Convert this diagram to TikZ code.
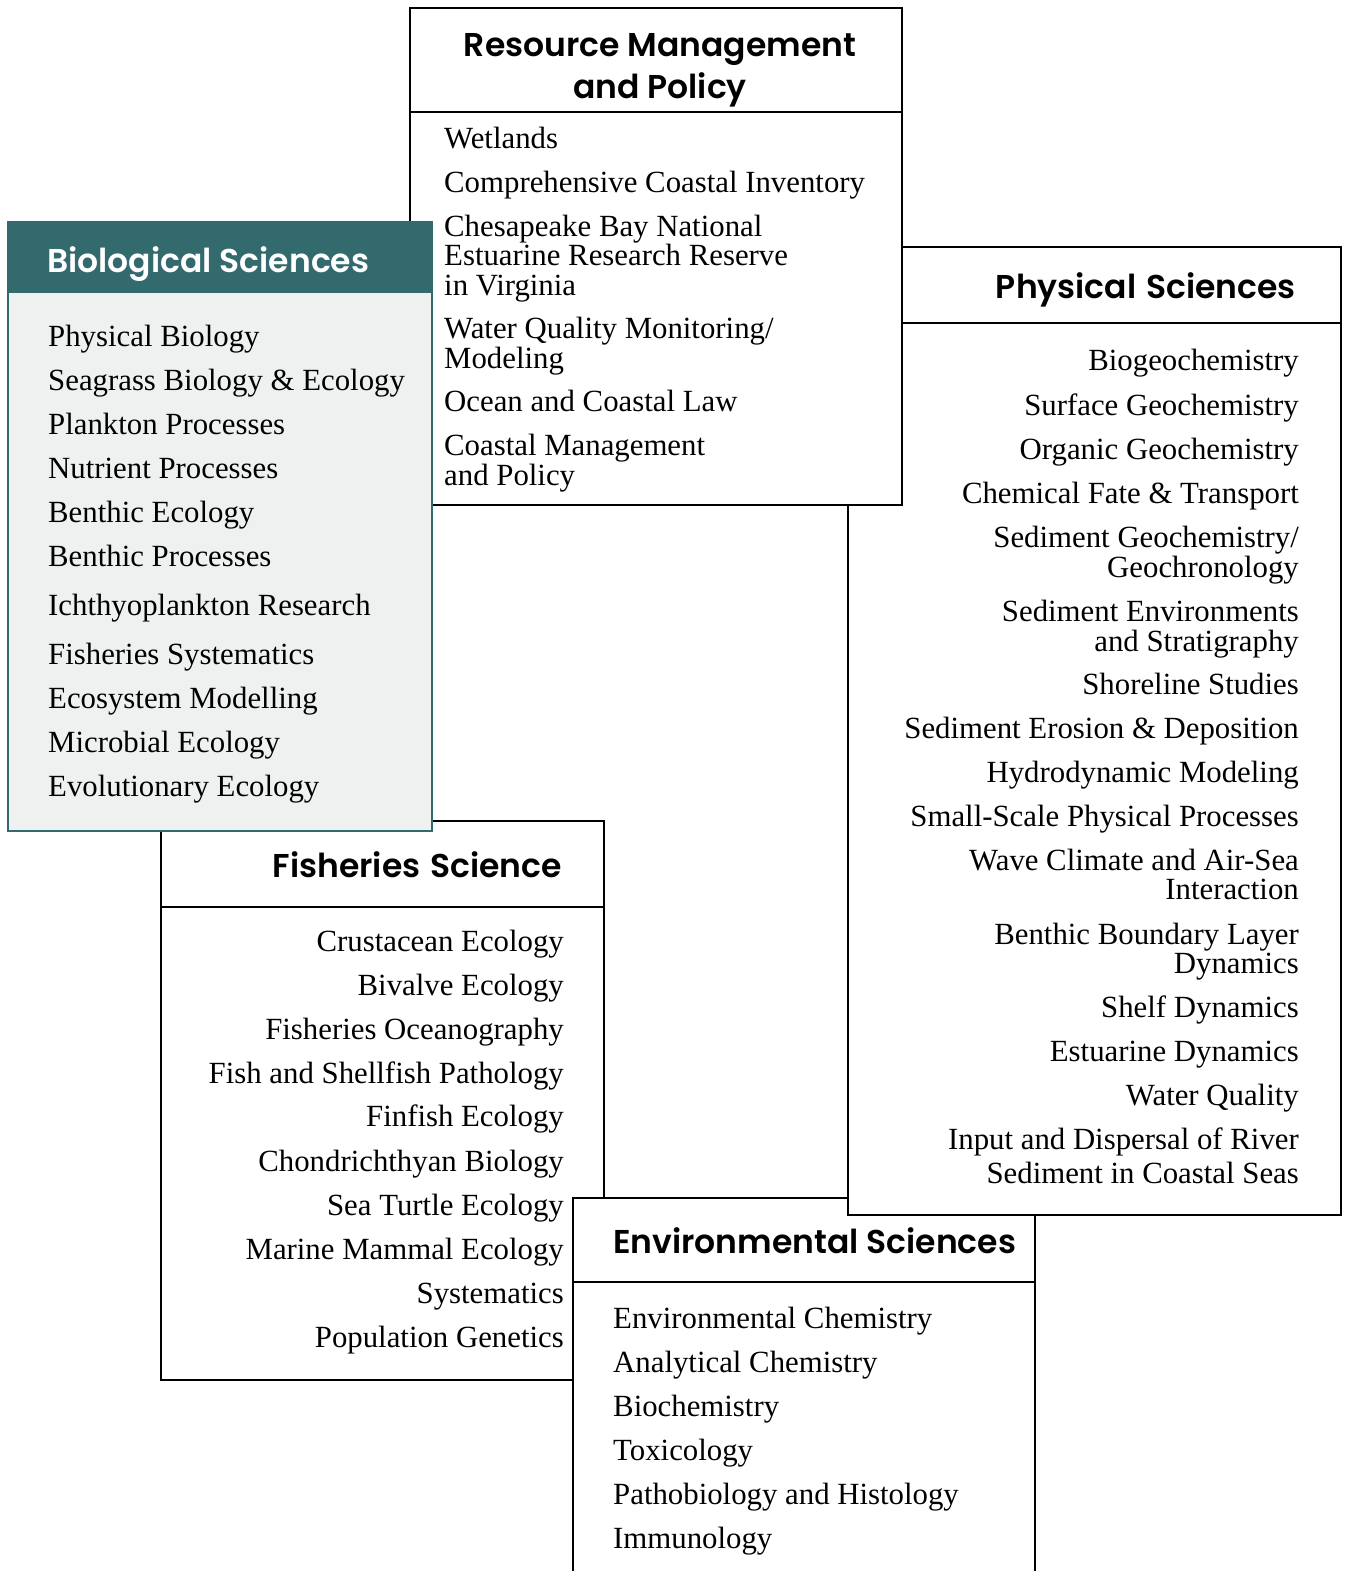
\documentclass[tikz,border=0pt]{standalone}
\usepackage{fontspec}
\setmainfont{Liberation Serif}
\newfontfamily\hdfont{Poppins SemiBold}
\definecolor{teal1}{HTML}{336A6E}
\definecolor{biofill}{HTML}{EFF1F0}
\tikzset{
  boxline/.style={line width=2.4pt, draw=black},
  itemL/.style={anchor=base west, inner sep=0pt, font=\fontsize{30.8}{30.8}\selectfont},
  itemR/.style={anchor=base east, inner sep=0pt, font=\fontsize{30.8}{30.8}\selectfont},
  head/.style={anchor=base, inner sep=0pt, font=\hdfont\fontsize{33}{33}\selectfont},
}
\begin{document}
\begin{tikzpicture}[x=1pt,y={(0pt,-1pt)}]
\useasboundingbox (0,0) rectangle (1348,1571);
% ---------- Fisheries Science ----------
\draw[boxline, fill=white] (161,821) rectangle (604,1380);
\draw[boxline] (161,907) -- (604,907);
\node[head, anchor=base east] (fish) at (562,877) {Fisheries\hspace{0.3em}Science};
\foreach \t/\y [count=\i] in {Crustacean Ecology/951, Bivalve Ecology/995, Fisheries Oceanography/1039, Fish and Shellfish Pathology/1083, Finfish Ecology/1126, Chondrichthyan Biology/1171, Sea Turtle Ecology/1215, Marine Mammal Ecology/1259, Systematics/1303, Population Genetics/1347}
  \node[itemR] (f\i) at (564,\y) {\t};
% ---------- Environmental Sciences ----------
\draw[boxline, fill=white] (573,1575) -- (573,1198) -- (1035,1198) -- (1035,1575);
\draw[boxline] (573,1282) -- (1035,1282);
\node[head, anchor=base west] (env) at (613,1253) {Environmental Sciences};
\foreach \t/\y [count=\i] in {Environmental Chemistry/1328, Analytical Chemistry/1372, Biochemistry/1416, Toxicology/1460, Pathobiology and Histology/1504, Immunology/1548}
  \node[itemL] (e\i) at (613,\y) {\t};
% ---------- Physical Sciences ----------
\draw[boxline, fill=white] (848,247) rectangle (1341,1215);
\draw[boxline] (848,323) -- (1341,323);
\node[head, anchor=base east] (phys) at (1296,298) {Physical\hspace{0.3em}Sciences};
\foreach \t/\y [count=\i] in {Biogeochemistry/370, Surface Geochemistry/415, Organic Geochemistry/459, Chemical Fate \& Transport/503, Sediment Geochemistry\slash/547, Geochronology/577, Sediment Environments/621, and Stratigraphy/651, Shoreline Studies/694, Sediment Erosion \& Deposition/738, Hydrodynamic Modeling/782, Small-Scale Physical Processes/826, Wave Climate and Air-Sea/870, Interaction/899, Benthic Boundary Layer/944, Dynamics/973, Shelf Dynamics/1017, Estuarine Dynamics/1061, Water Quality/1105, Input and Dispersal of River/1149, Sediment in Coastal Seas/1183}
  \node[itemR] (p\i) at (1299,\y) {\t};
% ---------- Resource Management and Policy ----------
\draw[boxline, fill=white] (410,8) rectangle (902,505);
\draw[boxline] (410,112) -- (902,112);
\node[head] (rm1) at (660,57) {Resource Management};
\node[head] (rm2) at (660,98) {and Policy};
\foreach \t/\y [count=\i] in {Wetlands/148, Comprehensive Coastal Inventory/192, Chesapeake Bay National/236, Estuarine Research Reserve/265, in Virginia/295, Water Quality Monitoring\slash/338, Modeling/368, Ocean and Coastal Law/411, Coastal Management/455, and Policy/485}
  \node[itemL] (r\i) at (444,\y) {\t};
% ---------- Biological Sciences ----------
\draw[line width=2.4pt, draw=teal1, fill=biofill] (8,222) rectangle (432,831);
\fill[teal1] (8,222) rectangle (432,293);
\node[head, anchor=base west, text=white] (bio) at (47,272) {Biological Sciences};
\foreach \t/\y [count=\i] in {Physical Biology/346, Seagrass Biology \& Ecology/390, Plankton Processes/434, Nutrient Processes/478, Benthic Ecology/522, Benthic Processes/566, Ichthyoplankton Research/615, Fisheries Systematics/664, Ecosystem Modelling/708, Microbial Ecology/752, Evolutionary Ecology/796}
  \node[itemL] (b\i) at (48,\y) {\t};
\end{tikzpicture}
\end{document}
